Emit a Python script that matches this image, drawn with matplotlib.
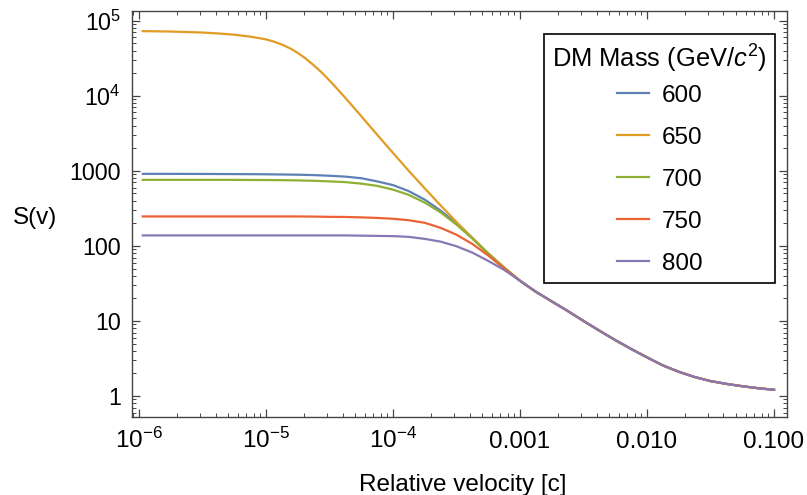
import matplotlib
matplotlib.use("Agg")
import matplotlib.pyplot as plt
from matplotlib.ticker import LogLocator, NullFormatter

# relative velocity (units of c) up to 0.001, where the curves still differ
v_low = [1.07e-6, 1.78e-6, 3.16e-6, 4.22e-6, 5.62e-6, 7.50e-6, 1.00e-5, 1.33e-5,
         1.78e-5, 2.37e-5, 3.16e-5, 4.22e-5, 5.62e-5, 7.50e-5, 1.00e-4, 1.33e-4,
         1.78e-4, 2.37e-4, 3.16e-4, 4.22e-4, 5.62e-4, 7.50e-4, 1.00e-3]
# the 650 GeV curve turns over sharply, so it is sampled more finely
v_low_650 = [1.07e-6, 1.78e-6, 3.16e-6, 4.22e-6, 5.62e-6, 7.50e-6, 1.00e-5,
             1.15e-5, 1.33e-5, 1.54e-5, 1.78e-5, 2.05e-5, 2.37e-5, 2.74e-5, 3.16e-5,
             3.65e-5, 4.22e-5, 4.87e-5, 5.62e-5, 6.49e-5, 7.50e-5, 8.66e-5, 1.00e-4,
             1.33e-4, 1.78e-4, 2.37e-4, 3.16e-4, 4.22e-4, 5.62e-4, 7.50e-4, 1.00e-3]
# above 0.001 every mass gives the same S(v)
v_high = [1.33e-3, 1.78e-3, 2.37e-3, 3.16e-3, 4.22e-3, 5.62e-3, 7.50e-3, 1.00e-2,
          1.33e-2, 1.78e-2, 2.37e-2, 3.16e-2, 4.22e-2, 5.62e-2, 7.50e-2, 0.1]
s_high = [24.5, 18.2, 13.6, 10.0, 7.41, 5.56, 4.23, 3.27, 2.56, 2.10, 1.79, 1.58,
          1.45, 1.35, 1.27, 1.21]

# Sommerfeld factor S(v) for each dark matter mass
s_600 = [912, 912, 910, 908, 906, 904, 900, 895, 889, 879, 861, 838, 798, 724, 646,
         537, 413, 295, 200, 126, 79.4, 51.3, 34.3]
s_650 = [72800, 71900, 69700, 67800, 65200, 61500, 56600, 52800, 48300, 43100, 37300,
         31400, 25600, 20500, 16000, 12300, 9350, 7080, 5350, 4030, 3030, 2290, 1730,
         1000, 583, 346, 208, 128, 79.8, 51.5, 34.3]
s_700 = [759, 759, 759, 759, 759, 757, 755, 752, 746, 738, 724, 708, 676, 631, 562,
         479, 377, 280, 192, 125, 78.5, 51.0, 34.3]
s_750 = [247, 247, 247, 247, 247, 247, 247, 247, 247, 246, 244, 243, 240, 236, 230,
         220, 203, 174, 141, 106, 74.5, 50.1, 34.3]
s_800 = [138, 138, 138, 138, 138, 138, 138, 138, 138, 138, 138, 138, 137, 136, 135,
         132, 124, 114, 98.9, 81.3, 63.1, 47.9, 34.3]

masses = ["600", "650", "700", "750", "800"]
colors = ["#5E81B5", "#E19C24", "#8FB032", "#EB6235", "#8778B3"]
series = [(v_low, s_600), (v_low_650, s_650), (v_low, s_700), (v_low, s_750), (v_low, s_800)]

x_ticks = [1e-6, 1e-5, 1e-4, 1e-3, 1e-2, 1e-1]
x_tick_labels = [r"$10^{-6}$", r"$10^{-5}$", r"$10^{-4}$", "0.001", "0.010", "0.100"]
y_ticks = [1, 10, 100, 1000, 1e4, 1e5]
y_tick_labels = ["1", "10", "100", "1000", r"$10^{4}$", r"$10^{5}$"]

plt.rcParams["font.family"] = ["Liberation Sans", "DejaVu Sans"]
plt.rcParams["mathtext.fontset"] = "custom"
plt.rcParams["mathtext.rm"] = "Liberation Sans"
plt.rcParams["mathtext.it"] = "Liberation Sans:italic"
plt.rcParams["mathtext.bf"] = "Liberation Sans:bold"

W, H = 807, 495
fig = plt.figure(figsize=(W / 100, H / 100), dpi=100)
ax = fig.add_axes([132 / W, 1 - 417 / H, 655 / W, 406 / H])

for label, (v, s), c in zip(masses, series, colors):
    ax.plot(v + v_high, s + s_high, color=c, lw=1.6, label=label)

ax.set_xscale("log")
ax.set_yscale("log")
ax.set_xlim(8.8e-7, 0.1265)
ax.set_ylim(0.525, 1.35e5)

ax.set_xticks(x_ticks, x_tick_labels)
ax.set_yticks(y_ticks, y_tick_labels)
for axis in (ax.xaxis, ax.yaxis):
    axis.set_minor_locator(LogLocator(base=10, subs=range(2, 10), numticks=30))
    axis.set_minor_formatter(NullFormatter())

frame_gray = "#444444"
ax.tick_params(which="both", direction="in", top=True, right=True,
               color=frame_gray, labelcolor="black")
ax.tick_params(which="major", length=6, width=0.9)
ax.tick_params(which="minor", length=3, width=0.7)
ax.tick_params(axis="x", pad=22.5, labelsize=17.5)
ax.tick_params(axis="y", pad=7.9, labelsize=16.7)
for t in ax.get_xticklabels():
    t.set_verticalalignment("baseline")
for sp in ax.spines.values():
    sp.set_color(frame_gray)
    sp.set_linewidth(1.0)

ax.set_ylabel("S(v)", rotation=0, fontsize=17.5, va="center", ha="center")
ax.yaxis.set_label_coords(-0.148, 0.490)
ax.set_xlabel("Relative velocity [c]", fontsize=17.5, va="baseline")
ax.xaxis.set_label_coords(0.505, -0.1833)

leg = ax.legend(title="DM Mass (GeV/$c^2$)", loc="upper right",
                bbox_to_anchor=(775 / W, 1 - 34.3 / H), bbox_transform=fig.transFigure,
                fontsize=17.5, title_fontsize=18.4, fancybox=False, edgecolor="black",
                framealpha=1, borderpad=0.33, labelspacing=0.82, handlelength=1.32,
                handletextpad=0.52, alignment="center", borderaxespad=0)
leg.get_frame().set_linewidth(1.2)
# tighter gap between the title and the first entry
leg._legend_box.sep = 7.4

fig.savefig("out.png", dpi=100)
